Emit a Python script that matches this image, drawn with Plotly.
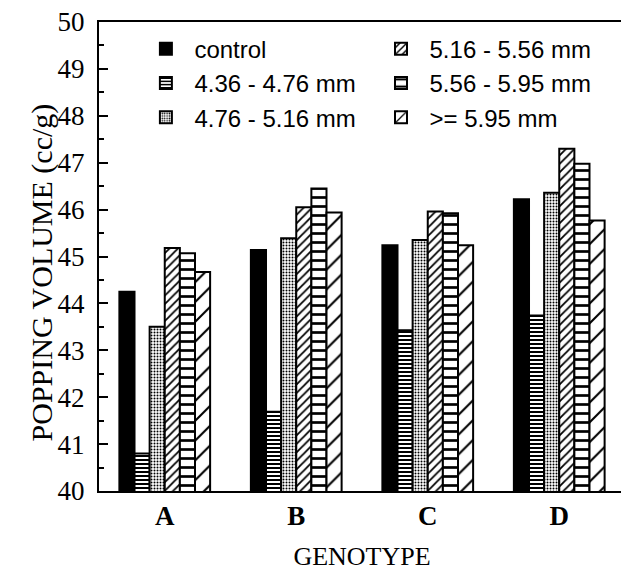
import plotly.graph_objects as go

genotypes = ["A", "B", "C", "D"]
series_names = ["control", "4.36 - 4.76 mm", "4.76 - 5.16 mm",
                "5.16 - 5.56 mm", "5.56 - 5.95 mm", ">= 5.95 mm"]
control = [44.25, 45.14, 45.24, 46.22]
s436 = [40.8, 41.69, 43.43, 43.74]
s476 = [43.5, 45.39, 45.35, 46.36]
s516 = [45.18, 46.05, 45.96, 47.3]
s556 = [45.07, 46.45, 45.92, 46.98]
s595 = [44.67, 45.94, 45.24, 45.77]
values = [control, s436, s476, s516, s556, s595]
y_ticks = list(range(40, 51))

styles = [
    dict(shape="", size=8, solidity=0.3),
    dict(shape="-", size=4, solidity=0.5),
    dict(shape=".", size=3, solidity=0.35),
    dict(shape="/", size=6, solidity=0.3),
    dict(shape="-", size=9, solidity=0.3),
    dict(shape="/", size=14, solidity=0.15),
]
fills = ["black", "white", "white", "white", "white", "white"]
legends = ["legend", "legend", "legend", "legend2", "legend2", "legend2"]

fig = go.Figure()
for name, vals, st, fc, lg in zip(series_names, values, styles, fills, legends):
    pat = dict(shape=st["shape"], size=st["size"], solidity=st["solidity"],
               fgcolor="black", bgcolor=fc, fillmode="replace")
    fig.add_trace(go.Bar(
        x=genotypes, y=vals, name=name, legend=lg, legendgroup=name,
        marker=dict(color=fc, pattern=pat, line=dict(color="black", width=2)),
    ))

serif = "Liberation Serif, Times New Roman"
leg_font = dict(family="Liberation Sans, Arial", size=24, color="black")
fig.update_layout(
    width=629, height=573,
    margin=dict(l=91, r=12, t=14, b=90),
    paper_bgcolor="white", plot_bgcolor="white",
    barmode="group", bargap=0.31, bargroupgap=0,
    showlegend=True,
    legend=dict(x=0.073, y=0.99, xanchor="left", yanchor="top", font=leg_font,
                bgcolor="rgba(0,0,0,0)", tracegroupgap=0, itemwidth=47),
    legend2=dict(x=0.52, y=0.99, xanchor="left", yanchor="top", font=leg_font,
                 bgcolor="rgba(0,0,0,0)", tracegroupgap=0, itemwidth=47),
    font=dict(family=serif, color="black"),
    annotations=[dict(
        text="POPPING VOLUME (cc/g)", textangle=-90,
        xref="paper", x=0, xanchor="center", xshift=-57,
        yref="y", y=44.66, yanchor="middle", showarrow=False,
        font=dict(family=serif, size=30, color="black"),
    )],
)
fig.update_yaxes(
    range=[40, 50], tickmode="array", tickvals=y_ticks,
    ticktext=[str(v) for v in y_ticks], automargin=False,
    ticklabeloverflow="allow",
    ticks="inside", ticklen=9, tickwidth=2, tickcolor="black",
    minor=dict(dtick=0.5, ticks="inside", ticklen=5, tickwidth=2, tickcolor="black"),
    showline=True, linecolor="black", linewidth=2, mirror=True,
    showgrid=False, zeroline=False, ticklabelstandoff=7,
    tickfont=dict(family=serif, size=27, color="black"),
)
fig.update_xaxes(
    showline=True, linecolor="black", linewidth=2, mirror=True,
    ticks="", showgrid=False, automargin=False,
    tickfont=dict(family=serif, size=27, color="black", weight="bold"),
    title=dict(text="GENOTYPE", standoff=16,
               font=dict(family=serif, size=26, color="black")),
)
fig.write_html("out.html")
